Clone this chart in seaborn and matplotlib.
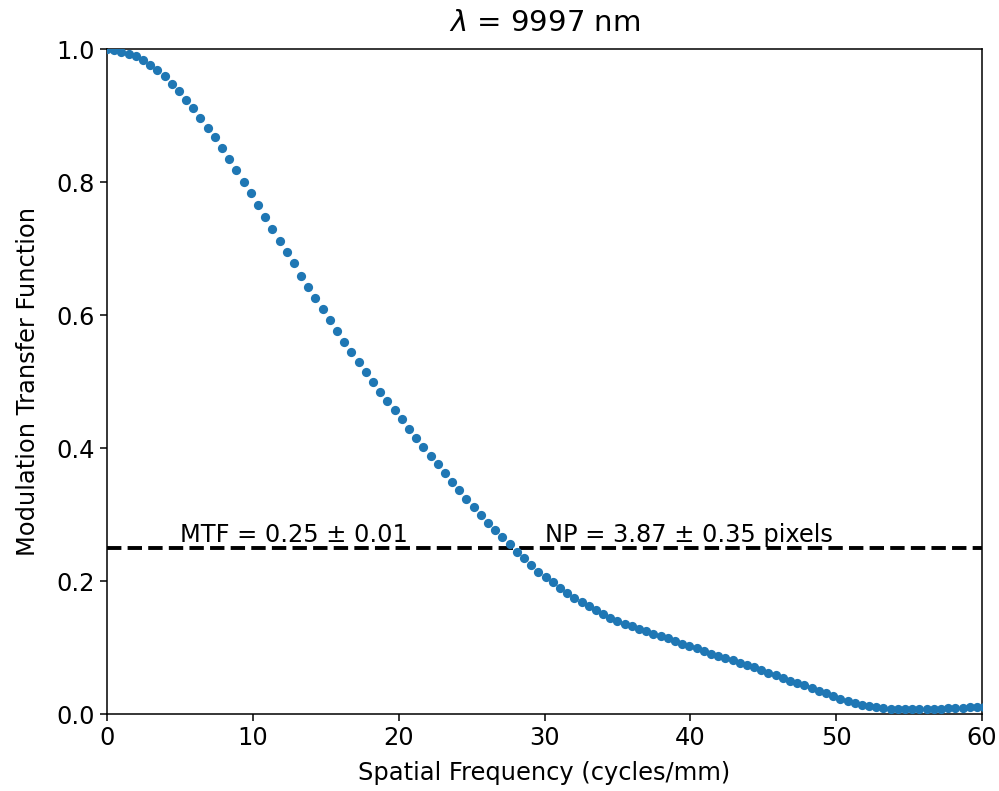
import numpy as np
import pandas as pd
import matplotlib
matplotlib.use("Agg")
import matplotlib.pyplot as plt
import seaborn as sns

mtf = [1.000, 0.998, 0.996, 0.993, 0.989, 0.983, 0.976, 0.968, 0.959, 0.948,
       0.937, 0.924, 0.911, 0.897, 0.882, 0.867, 0.851, 0.835, 0.818, 0.800,
       0.783, 0.765, 0.748, 0.730, 0.712, 0.695, 0.678, 0.659, 0.642, 0.625,
       0.609, 0.592, 0.576, 0.560, 0.544, 0.529, 0.514, 0.499, 0.485, 0.471,
       0.457, 0.443, 0.429, 0.415, 0.402, 0.388, 0.376, 0.362, 0.349, 0.337,
       0.324, 0.312, 0.299, 0.288, 0.277, 0.266, 0.255, 0.244, 0.234, 0.224,
       0.214, 0.206, 0.198, 0.189, 0.182, 0.174, 0.168, 0.162, 0.156, 0.150,
       0.145, 0.140, 0.136, 0.132, 0.128, 0.125, 0.121, 0.117, 0.114, 0.110,
       0.106, 0.103, 0.099, 0.095, 0.091, 0.088, 0.085, 0.081, 0.077, 0.073,
       0.070, 0.066, 0.062, 0.058, 0.054, 0.050, 0.046, 0.043, 0.039, 0.035,
       0.031, 0.027, 0.023, 0.020, 0.017, 0.014, 0.012, 0.010, 0.009, 0.008,
       0.007, 0.007, 0.007, 0.007, 0.008, 0.008, 0.008, 0.009, 0.009, 0.009,
       0.010, 0.010, 0.010]
freq_step = 0.493  # cycles/mm between samples
freq = np.arange(len(mtf)) * freq_step

mtf_level = 0.25
mtf_label = "MTF = 0.25 ± 0.01"
np_label = "NP = 3.87 ± 0.35 pixels"
title = r"$\lambda$ = 9997 nm"

df = pd.DataFrame({"freq": freq, "mtf": mtf})

sns.set_style("ticks")
plt.rcParams["font.family"] = ["DejaVu Sans"]
plt.rcParams["mathtext.fontset"] = "dejavusans"
for key in ["text.color", "axes.labelcolor", "xtick.color", "ytick.color"]:
    plt.rcParams[key] = "black"

fs = 17.4

fig = plt.figure(figsize=(9.99, 7.91), dpi=100)
ax = fig.add_axes([0.1071, 0.0973, 0.983 - 0.1071, 0.938 - 0.0973])

sns.scatterplot(data=df, x="freq", y="mtf", ax=ax, color="#1f77b4",
                s=44, linewidth=0, zorder=3)
ax.axhline(mtf_level, color="black", ls="--", lw=2.8, zorder=2)
ax.text(5, 0.259, mtf_label, fontsize=fs)
ax.text(30, 0.259, np_label, fontsize=fs)

ax.set_xlim(0, 60)
ax.set_ylim(0, 1)
ax.set_xticks([0, 10, 20, 30, 40, 50, 60])
ax.set_yticks([0.0, 0.2, 0.4, 0.6, 0.8, 1.0])
ax.set_xlabel("Spatial Frequency (cycles/mm)", fontsize=fs, labelpad=8)
ax.set_ylabel("Modulation Transfer Function", fontsize=fs, labelpad=12)
ax.set_title(title, fontsize=21, pad=13)
ax.tick_params(labelsize=fs, length=5, width=1.1, color="black")
for sp in ax.spines.values():
    sp.set_linewidth(1.1)
    sp.set_color("black")

fig.savefig("out.png", dpi=100)
